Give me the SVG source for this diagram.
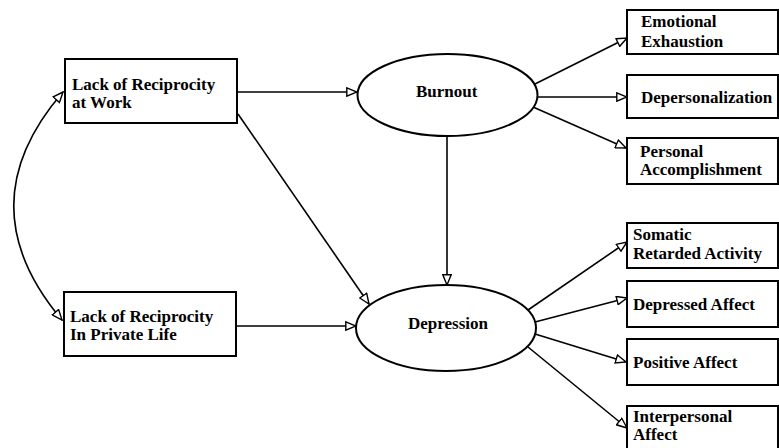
<svg xmlns="http://www.w3.org/2000/svg" width="779" height="448" viewBox="0 0 779 448">
<defs>
<style>
.box{fill:#fff;stroke:#000;stroke-width:2}
.ell{fill:#fff;stroke:#000;stroke-width:2}
.t{font-family:"Liberation Serif","Times New Roman",serif;font-weight:bold;font-size:17px;fill:#000}
.c{fill:none;stroke:#000;stroke-width:1.6}
</style>
<marker id="ah" viewBox="0 0 12 10" refX="11" refY="5" markerWidth="12" markerHeight="10" markerUnits="userSpaceOnUse" orient="auto-start-reverse">
<path d="M0.8,0.8 L11,5 L0.8,9.2 Z" fill="#fff" stroke="#000" stroke-width="1.4"/>
</marker>
</defs>
<rect width="779" height="448" fill="#fff"/>
<g id="connectors">
<path class="c" d="M237,92 L357,92" marker-end="url(#ah)"/>
<path class="c" d="M238,114 L369,304" marker-end="url(#ah)"/>
<path class="c" d="M236,326 L356,326" marker-end="url(#ah)"/>
<path class="c" d="M447,137 L447,285" marker-end="url(#ah)"/>
<path class="c" d="M63,92 Q-35,205 62,320" marker-start="url(#ah)" marker-end="url(#ah)"/>
<path class="c" d="M533,85 L627,38" marker-end="url(#ah)"/>
<path class="c" d="M538,97 L627,97" marker-end="url(#ah)"/>
<path class="c" d="M533,107 L626,148" marker-end="url(#ah)"/>
<path class="c" d="M528,310 L627,242" marker-end="url(#ah)"/>
<path class="c" d="M535,322 L627,298" marker-end="url(#ah)"/>
<path class="c" d="M535,334 L626,362" marker-end="url(#ah)"/>
<path class="c" d="M528,347 L627,428" marker-end="url(#ah)"/>
</g>
<g id="work">
<rect class="box" x="65" y="59" width="172" height="64"/>
<text class="t" x="72" y="90">Lack of Reciprocity</text>
<text class="t" x="72" y="108">at Work</text>
</g>
<g id="private">
<rect class="box" x="64" y="292" width="172" height="64"/>
<text class="t" x="70" y="322">Lack of Reciprocity</text>
<text class="t" x="70" y="340">In Private Life</text>
</g>
<g id="burnout">
<ellipse class="ell" cx="447.5" cy="95" rx="90" ry="41"/>
<text class="t" x="416" y="97">Burnout</text>
</g>
<g id="depression">
<ellipse class="ell" cx="446" cy="328" rx="90" ry="43"/>
<text class="t" x="408" y="329">Depression</text>
</g>
<g id="emotional-exhaustion">
<rect class="box" x="627" y="10" width="151" height="44"/>
<text class="t" x="641" y="27">Emotional</text>
<text class="t" x="641" y="47">Exhaustion</text>
</g>
<g id="depersonalization">
<rect class="box" x="627" y="75" width="151" height="43"/>
<text class="t" x="641" y="103">Depersonalization</text>
</g>
<g id="personal-accomplishment">
<rect class="box" x="627" y="138" width="151" height="46"/>
<text class="t" x="640" y="157">Personal</text>
<text class="t" x="640" y="175">Accomplishment</text>
</g>
<g id="somatic">
<rect class="box" x="627" y="223" width="151" height="45"/>
<text class="t" x="633" y="240">Somatic</text>
<text class="t" x="633" y="259">Retarded Activity</text>
</g>
<g id="depressed-affect">
<rect class="box" x="627" y="281" width="151" height="46"/>
<text class="t" x="633" y="310">Depressed Affect</text>
</g>
<g id="positive-affect">
<rect class="box" x="627" y="339" width="151" height="46"/>
<text class="t" x="633" y="368">Positive Affect</text>
</g>
<g id="interpersonal-affect">
<rect class="box" x="627" y="406" width="151" height="46"/>
<text class="t" x="633" y="422">Interpersonal</text>
<text class="t" x="633" y="440">Affect</text>
</g>
</svg>
